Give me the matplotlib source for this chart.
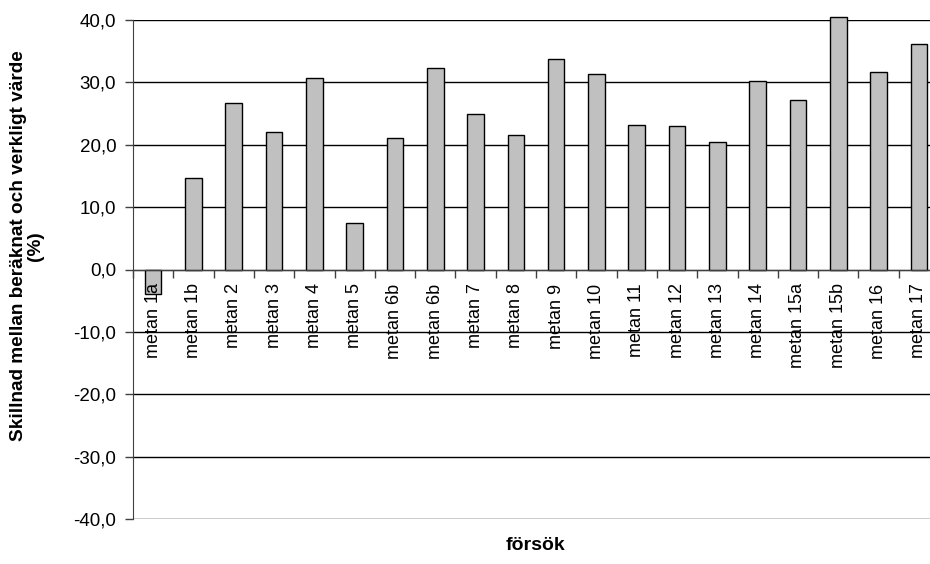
import matplotlib.pyplot as plt
import numpy as np
from matplotlib.ticker import FuncFormatter, FixedLocator

plt.rcParams['font.family'] = ['Liberation Sans', 'DejaVu Sans']

labels = ['metan 1a', 'metan 1b', 'metan 2', 'metan 3', 'metan 4', 'metan 5',
          'metan 6b', 'metan 6b', 'metan 7', 'metan 8', 'metan 9', 'metan 10',
          'metan 11', 'metan 12', 'metan 13', 'metan 14', 'metan 15a',
          'metan 15b', 'metan 16', 'metan 17']
values = [-4.0, 14.7, 26.7, 22.0, 30.7, 7.5, 21.1, 32.3, 25.0, 21.6,
          33.8, 31.4, 23.1, 23.0, 20.4, 30.2, 27.2, 40.5, 31.6, 36.1]
yticks = [-40, -30, -20, -10, 0, 10, 20, 30, 40]

fig = plt.figure(figsize=(9.3, 5.64), dpi=100)
# plot area runs a little past the right edge, as in the original
ax = fig.add_axes([133/930, 1 - 519/564, 806/930, 499/564])

x = np.arange(len(labels))
ax.bar(x, values, width=0.41, color='#c0c0c0', edgecolor='black',
       linewidth=1.0, zorder=3, clip_on=False)

ax.set_xlim(-0.5, len(labels) - 0.5)
ax.set_ylim(-40, 40)
ax.set_yticks(yticks)
ax.yaxis.set_major_formatter(FuncFormatter(lambda v, p: f'{v:.1f}'.replace('.', ',')))
ax.yaxis.grid(True, color='black', linewidth=1.0)
ax.set_axisbelow(True)
# category labels sit on top of the bars (see metan 1a)
ax.xaxis.set_zorder(5)

ax.set_xticks(x)
ax.set_xticklabels(labels)
ax.xaxis.set_minor_locator(FixedLocator(np.arange(len(labels) + 1) - 0.5))
ax.tick_params(axis='x', which='major', length=0, pad=10, labelsize=13,
               labelrotation=90)
ax.tick_params(axis='x', which='minor', length=6, width=1, direction='out', color='#404040')
ax.tick_params(axis='y', length=6, width=1, pad=6, labelsize=13.5, color='#404040')
for t in ax.get_xticklabels():
    t.set_va('top')
    t.set_ha('center')

ax.spines['top'].set_visible(False)
ax.spines['right'].set_visible(False)
ax.spines['bottom'].set_position(('data', 0))
ax.spines['bottom'].set_color('#404040')
ax.spines['left'].set_color('#404040')
ax.spines['bottom'].set_zorder(4)

fig.text(27/930, 1 - 246/564, 'Skillnad mellan beräknat och verkligt värde\n(%)',
         rotation=90, ha='center', va='center', fontsize=13.7,
         fontweight='bold', multialignment='center', linespacing=1.0)
fig.text(535/930, 1 - 546/564, 'försök', ha='center', va='center',
         fontsize=14, fontweight='bold')

fig.savefig('out.png', dpi=100)
